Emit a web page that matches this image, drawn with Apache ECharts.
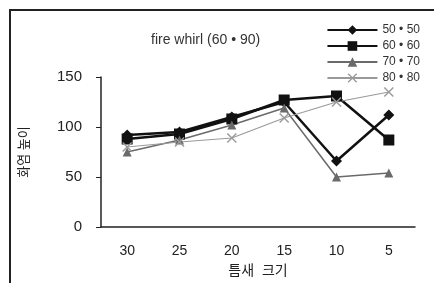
<!DOCTYPE html>
<html lang="ko">
<head>
    <meta charset="utf-8">
    <title>fire whirl (60·90)</title>
    <style>
        html, body { margin: 0; padding: 0; background: #fff; }
        #main { width: 434px; height: 283px; }
    </style>
</head>
<body>
    <div id="main"></div>
    <script src="https://cdn.jsdelivr.net/npm/echarts@6/dist/echarts.min.js"></script>
    <script>
    // 틈새 크기 (gap size)
    var categories = ['30', '25', '20', '15', '10', '5'];
    var seriesNames = ['50 • 50', '60 • 60', '70 • 70', '80 • 80'];
    // 화염 높이 (flame height)
    var s5050 = [92, 95, 110, 125, 66, 112];
    var s6060 = [88, 93, 108, 127, 131, 87];
    var s7070 = [75, 87, 102, 119, 50, 54];
    var s8080 = [80, 85, 89, 109, 125, 135];

    var FONT = '"Liberation Sans", "Noto Sans CJK KR", sans-serif';
    var xMark = 'path://M0,1L1,0L5,4L9,0L10,1L6,5L10,9L9,10L5,6L1,10L0,9L4,5Z';

    var chart = echarts.init(document.getElementById('main'));

    function makeSeries(name, data, color, width, symbol, size) {
        return {
            name: name,
            type: 'line',
            data: data,
            symbol: symbol,
            symbolSize: size,
            showAllSymbol: true,
            lineStyle: { color: color, width: width },
            itemStyle: { color: color },
            emphasis: { disabled: true }
        };
    }

    var option = {
        animation: false,
        backgroundColor: '#fff',
        textStyle: { fontFamily: FONT, color: '#222' },
        title: {
            text: 'fire whirl (60 • 90)',
            left: 146,
            top: 28,
            textStyle: { fontSize: 14, fontWeight: 'normal', color: '#333', fontFamily: FONT }
        },
        legend: {
            orient: 'vertical',
            right: 9,
            top: 19,
            itemWidth: 50,
            itemHeight: 12,
            itemGap: 4,
            textStyle: { fontSize: 12, color: '#333', fontFamily: FONT },
            data: seriesNames
        },
        graphic: [{
            type: 'rect',
            shape: { x: 10, y: 10, width: 440, height: 290 },
            style: { fill: 'none', stroke: '#222', lineWidth: 2 },
            silent: true
        }],
        grid: { left: 101, right: 19, top: 77, bottom: 56 },
        xAxis: {
            type: 'category',
            data: categories,
            name: '틈새  크기',
            nameLocation: 'middle',
            nameGap: 37,
            nameTextStyle: { fontSize: 14, color: '#222', fontFamily: FONT },
            axisLine: { lineStyle: { color: '#222', width: 1.5 } },
            axisTick: { inside: true, length: 5, lineStyle: { color: '#222' } },
            axisLabel: { fontSize: 14, color: '#222', margin: 17 }
        },
        yAxis: {
            type: 'value',
            min: 0,
            max: 150,
            interval: 50,
            name: '화염 높이',
            nameLocation: 'middle',
            nameRotate: 90,
            nameGap: 70,
            nameTextStyle: { fontSize: 13, color: '#222', fontFamily: FONT },
            splitLine: { show: false },
            axisLine: { show: true, lineStyle: { color: '#222', width: 1.5 } },
            axisTick: { show: true, length: 5, lineStyle: { color: '#222' } },
            axisLabel: { fontSize: 15, color: '#222', margin: 19 }
        },
        series: [
            makeSeries(seriesNames[0], s5050, '#111', 2.5, 'diamond', 11),
            makeSeries(seriesNames[1], s6060, '#111', 2.5, 'rect', 11),
            makeSeries(seriesNames[2], s7070, '#6a6a6a', 1.5, 'triangle', 9),
            makeSeries(seriesNames[3], s8080, '#9a9a9a', 1.2, xMark, 10)
        ]
    };

    chart.setOption(option);
    </script>
</body>
</html>
